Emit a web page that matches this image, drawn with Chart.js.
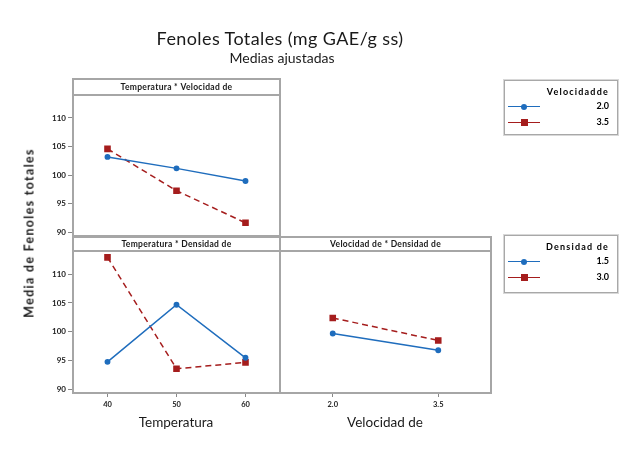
<!DOCTYPE html>
<html>
<head>
<meta charset="utf-8">
<script src="https://cdn.jsdelivr.net/npm/chart.js@4"></script>
<style>
  body { margin: 0; background: #fff; font-family: Lato, "Open Sans", sans-serif; }
  #wrap { position: relative; width: 627px; height: 450px; overflow: hidden; }
  canvas { position: absolute; left: 0; top: 0; }
  .txt { position: absolute; white-space: nowrap; color: #1a1a1a; transform: translate(-50%, -50%); }
  .legend { position: absolute; border: 1px solid #a8a8a8; box-shadow: 0 0 0 1px #d8d8d8; background: #fff; }
  .legend .ttl { position: absolute; right: 8px; top: 5px; font-size: 9px; font-weight: bold; letter-spacing: 1.2px; }
  .legend .row { position: absolute; left: 0; right: 8px; height: 10px; font-size: 9px; font-weight: bold; text-align: right; line-height: 10px; }
  .legend .ln { position: absolute; left: 3px; width: 32px; top: 5px; }
  .legend .mk { position: absolute; }
</style>
</head>
<body>
<div id="wrap">
  <canvas id="tl" width="627" height="450"></canvas>
  <canvas id="bl" width="627" height="450"></canvas>
  <canvas id="br" width="627" height="450"></canvas>

  <div class="txt" style="left:280px; top:38px; font-size:18px; letter-spacing:0.4px;">Fenoles Totales (mg GAE/g ss)</div>
  <div class="txt" style="left:282px; top:57px; font-size:14px;">Medias ajustadas</div>
  <div class="txt" style="left:29px; top:233px; font-size:12.5px; font-weight:bold; letter-spacing:1.3px; transform: translate(-50%, -50%) rotate(-90deg);">Media de Fenoles totales</div>
  <div class="txt" style="left:176px; top:422px; font-size:13.5px;">Temperatura</div>
  <div class="txt" style="left:385px; top:422px; font-size:13.5px;">Velocidad de</div>

  <div class="legend" id="leg1" style="left:504px; top:80px; width:112px; height:53px;"></div>
  <div class="legend" id="leg2" style="left:504px; top:235px; width:112px; height:56px;"></div>
</div>
<script>
// interaction means (adjusted) of total phenols
const temps = [40, 50, 60];
const vels = [2.0, 3.5];
const velLevels = ['2.0', '3.5'];
const denLevels = ['1.5', '3.0'];

const tempVel20 = [103.2, 101.2, 99.0];
const tempVel35 = [104.6, 97.3, 91.7];
const tempDen15 = [94.8, 104.7, 95.5];
const tempDen30 = [112.9, 93.6, 94.7];
const velDen15 = [99.7, 96.8];
const velDen30 = [102.4, 98.5];

const yTicks = [90, 95, 100, 105, 110];

const BLUE = '#1f6dbd';
const RED = '#a51d1d';
const FRAME = '#a6a6a6';

function pts(xs, ys) { return xs.map((x, i) => ({ x: x, y: ys[i] })); }

function lowSet(data) {
  return { data: data, borderColor: BLUE, backgroundColor: BLUE, borderWidth: 1.5,
    pointStyle: 'circle', pointRadius: 2.2, tension: 0 };
}
function highSet(data) {
  return { data: data, borderColor: RED, backgroundColor: RED, borderWidth: 1.5,
    borderDash: [6, 4], pointStyle: 'rect', pointRadius: 3.6, tension: 0 };
}

// frame + header strip around each panel
const panelFrame = {
  id: 'panelFrame',
  afterDraw(chart, args, opts) {
    const a = chart.chartArea, c = chart.ctx;
    c.save();
    c.strokeStyle = FRAME;
    c.lineWidth = 2;
    c.strokeRect(a.left, a.top - opts.h, a.right - a.left, a.bottom - a.top + opts.h);
    c.beginPath();
    c.moveTo(a.left, a.top); c.lineTo(a.right, a.top);
    c.stroke();
    c.fillStyle = '#1a1a1a';
    c.font = 'bold 8.5px Lato, sans-serif';
    c.letterSpacing = '0.3px';
    c.textAlign = 'center';
    c.textBaseline = 'middle';
    c.fillText(opts.text, (a.left + a.right) / 2, a.top - opts.h / 2 + 0.5);
    c.restore();
  }
};

function yScale(show) {
  return {
    display: show, min: 89.4, max: 114,
    afterBuildTicks(s) { s.ticks = yTicks.map(v => ({ value: v })); },
    afterFit(s) { s.width = show ? 73 : 0; },
    grid: { drawOnChartArea: false, tickLength: 5, color: '#888', lineWidth: 1 },
    border: { display: false },
    ticks: { padding: 2, color: '#222', font: { size: 8, family: 'Lato', weight: 'bold' } }
  };
}
function xScale(show, min, max, ticks, fmt) {
  return {
    type: 'linear', display: show, min: min, max: max,
    afterBuildTicks(s) { s.ticks = ticks.map(v => ({ value: v })); },
    afterFit(s) { s.height = show ? 30 : 0; },
    grid: { drawOnChartArea: false, tickLength: 4, color: '#888', lineWidth: 1 },
    border: { display: false },
    ticks: { padding: 3, color: '#222', font: { size: 7.5, family: 'Lato', weight: 'bold' }, callback: fmt }
  };
}

function panel(id, datasets, opts) {
  return new Chart(document.getElementById(id), {
    type: 'line',
    data: { datasets: datasets },
    options: {
      responsive: false, animation: false, devicePixelRatio: 1,
      layout: { padding: opts.padding },
      plugins: { legend: { display: false }, tooltip: { enabled: false },
        panelFrame: { text: opts.title, h: opts.h } },
      scales: { x: opts.x, y: opts.y }
    },
    plugins: [panelFrame]
  });
}

panel('tl', [lowSet(pts(temps, tempVel20)), highSet(pts(temps, tempVel35))], {
  title: 'Temperatura * Velocidad de', h: 16,
  padding: { top: 95, left: 0, right: 347, bottom: 214 },
  x: xScale(false, 35, 65, temps, v => v), y: yScale(true)
});
panel('bl', [lowSet(pts(temps, tempDen15)), highSet(pts(temps, tempDen30))], {
  title: 'Temperatura * Densidad de', h: 14,
  padding: { top: 251, left: 0, right: 347, bottom: 27 },
  x: xScale(true, 35, 65, temps, v => v), y: yScale(true)
});
panel('br', [lowSet(pts(vels, velDen15)), highSet(pts(vels, velDen30))], {
  title: 'Velocidad de * Densidad de', h: 14,
  padding: { top: 251, left: 280, right: 136, bottom: 27 },
  x: xScale(true, 1.25, 4.25, vels, v => v.toFixed(1)), y: yScale(false)
});

// legends
function legend(id, title, levels) {
  const box = document.getElementById(id);
  let html = '<div class="ttl">' + title + '</div>';
  const styles = [
    { col: BLUE, size: 6, round: true },
    { col: RED, size: 7, round: false }
  ];
  levels.forEach((lv, i) => {
    const s = styles[i];
    const top = 20 + i * 16;
    html += '<div class="row" style="top:' + top + 'px">' + lv +
      '<div class="ln" style="border-top:1.5px solid ' + s.col + '"></div>' +
      '<div class="mk" style="left:' + (19 - s.size / 2) + 'px;top:' + (5.5 - s.size / 2) +
      'px;width:' + s.size + 'px;height:' + s.size + 'px;background:' + s.col + ';' +
      (s.round ? 'border-radius:50%;' : '') + '"></div></div>';
  });
  box.innerHTML = html;
}
legend('leg1', 'Velocidadde', velLevels);
legend('leg2', 'Densidad de', denLevels);
</script>
</body>
</html>
